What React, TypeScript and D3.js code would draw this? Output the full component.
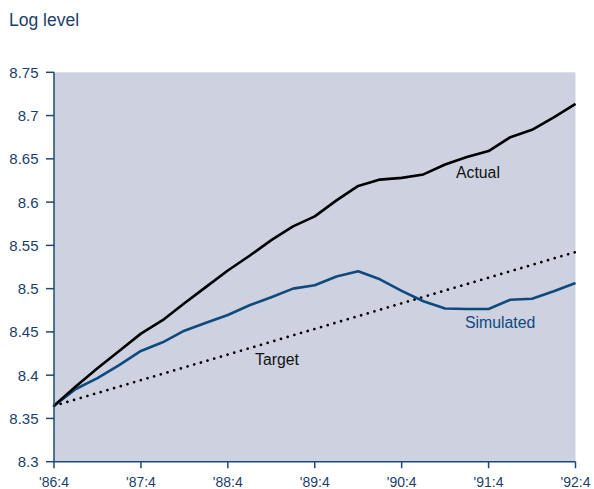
import React from "react";
import * as d3 from "d3";

const quarters = ["'86:4","'87:1","'87:2","'87:3","'87:4","'88:1","'88:2","'88:3","'88:4","'89:1","'89:2","'89:3","'89:4","'90:1","'90:2","'90:3","'90:4","'91:1","'91:2","'91:3","'91:4","'92:1","'92:2","'92:3","'92:4"];
const actual = [8.3646,8.387,8.408,8.428,8.448,8.4635,8.483,8.502,8.521,8.538,8.556,8.572,8.5835,8.602,8.6187,8.626,8.628,8.632,8.6435,8.652,8.659,8.675,8.6835,8.698,8.7135];
const simulated = [8.3646,8.384,8.3966,8.4116,8.428,8.438,8.4514,8.4606,8.4696,8.4808,8.49,8.5,8.5039,8.514,8.52,8.5108,8.4975,8.4854,8.477,8.4765,8.4765,8.4871,8.4883,8.497,8.5065];
const targetStart = 8.3646;
const targetEnd = 8.5423;
const xTickLabels = ["'86:4","'87:4","'88:4","'89:4","'90:4","'91:4","'92:4"];
const yTicks = [8.3,8.35,8.4,8.45,8.5,8.55,8.6,8.65,8.7,8.75];
const yTickLabels = ["8.3","8.35","8.4","8.45","8.5","8.55","8.6","8.65","8.7","8.75"];

const W = 594, H = 489;
const left = 54, right = 575.5, top = 72.3, bottom = 461.7;
const axisColor = "#1d4877";
const textBlue = "#1b3f6c";
const simBlue = "#0e4a7e";
const bg = "#cdd1e0";
const font = "'Liberation Sans', Arial, Helvetica, sans-serif";

export default function App() {
  const x = d3.scaleLinear().domain([0, quarters.length - 1]).range([left, right]);
  const y = d3.scaleLinear().domain([8.3, 8.75]).range([bottom, top]);
  const line = d3.line<number>().x((_, i) => x(i)).y(d => y(d));
  const targetData = [
    { i: 0, v: targetStart },
    { i: quarters.length - 1, v: targetEnd },
  ];
  const tLine = d3.line<{ i: number; v: number }>().x(d => x(d.i)).y(d => y(d.v));

  return (
    <svg width={W} height={H} style={{ position: "absolute", left: 0, top: 0 }} fontFamily={font}>
      <rect x={left} y={top} width={right - left} height={bottom - top} fill={bg} />
      <text x={9} y={26} fontSize={17.5} fill={textBlue}>Log level</text>
      <path d={tLine(targetData) || ""} fill="none" stroke="#000" strokeWidth={2.7} strokeDasharray="0.01 6.95" strokeLinecap="round" />
      <path d={line(simulated) || ""} fill="none" stroke={simBlue} strokeWidth={2.6} strokeLinejoin="round" />
      <path d={line(actual) || ""} fill="none" stroke="#000" strokeWidth={2.6} strokeLinejoin="round" />
      <line x1={left} x2={left} y1={top} y2={bottom} stroke={axisColor} strokeWidth={1.5} />
      <line x1={left} x2={right} y1={bottom} y2={bottom} stroke={axisColor} strokeWidth={1.5} />
      {yTicks.map((t, k) => (
        <g key={k}>
          <line x1={left - 8} x2={left} y1={y(t)} y2={y(t)} stroke={axisColor} strokeWidth={1.5} />
          <text x={38.5} y={y(t)} dy="0.36em" textAnchor="end" fontSize={15} fill={textBlue}>{yTickLabels[k]}</text>
        </g>
      ))}
      {xTickLabels.map((lab, k) => {
        const i = quarters.indexOf(lab);
        return (
          <g key={lab}>
            <line x1={x(i)} x2={x(i)} y1={bottom} y2={bottom + 6.5} stroke={axisColor} strokeWidth={1.5} />
            <text x={x(i)} y={487} textAnchor="middle" fontSize={14} fill={textBlue}>{lab}</text>
          </g>
        );
      })}
      <text x={456} y={177.5} fontSize={15.8} fill="#111">Actual</text>
      <text x={465} y={327.5} fontSize={15.8} fill={simBlue}>Simulated</text>
      <text x={255} y={365} fontSize={15.8} fill="#111">Target</text>
    </svg>
  );
}
